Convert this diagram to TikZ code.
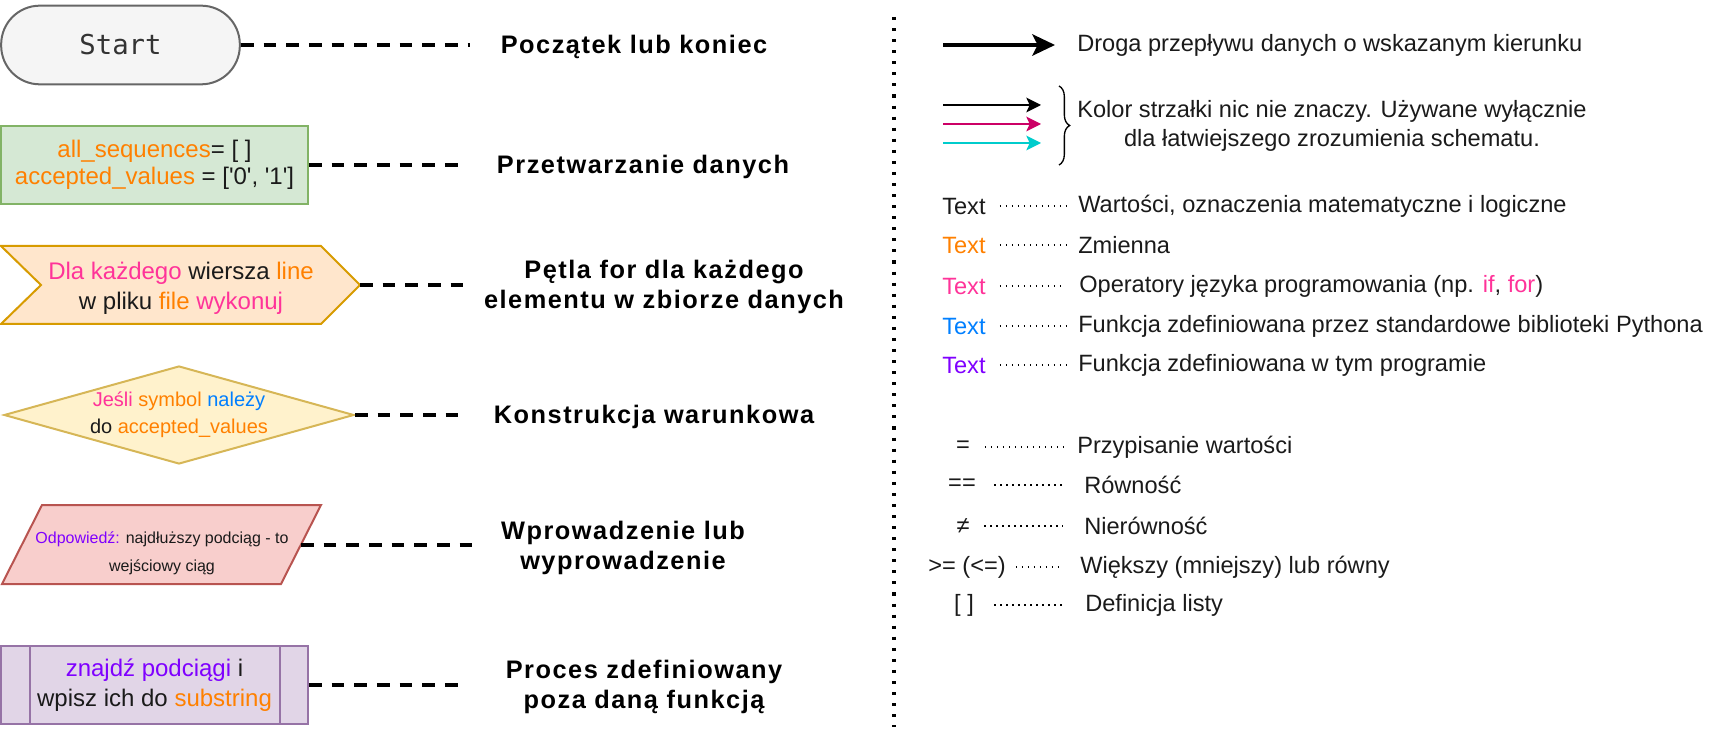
\documentclass[tikz,border=0pt]{standalone}
\usepackage{fontspec}
\setmainfont{Liberation Sans}
\newfontfamily\monofam{DejaVu Sans Mono}
\newfontfamily\labelfam{Liberation Sans}[LetterSpace=6]
\usetikzlibrary{arrows.meta,shapes.geometric,decorations.pathreplacing}

\definecolor{cvarcol}{HTML}{FF8000}
\definecolor{copcol}{HTML}{FF3399}
\definecolor{clibcol}{HTML}{007FFF}
\definecolor{cfuncol}{HTML}{7F00FF}
\definecolor{arrmagenta}{HTML}{CC0066}
\definecolor{arrcyan}{HTML}{00CCCC}
\definecolor{termfill}{HTML}{F5F5F5}
\definecolor{termline}{HTML}{666666}
\definecolor{termtext}{HTML}{333333}
\definecolor{procfill}{HTML}{D5E8D4}
\definecolor{procline}{HTML}{82B366}
\definecolor{loopfill}{HTML}{FFE6CC}
\definecolor{loopline}{HTML}{D79B00}
\definecolor{condfill}{HTML}{FFF2CC}
\definecolor{condline}{HTML}{D6B656}
\definecolor{iofill}{HTML}{F8CECC}
\definecolor{ioline}{HTML}{B85450}
\definecolor{subfill}{HTML}{E1D5E7}
\definecolor{subline}{HTML}{9673A6}
\definecolor{inktext}{HTML}{1A1A1A}

\newcommand{\cvar}[1]{\textcolor{cvarcol}{#1}}
\newcommand{\cop}[1]{\textcolor{copcol}{#1}}
\newcommand{\clib}[1]{\textcolor{clibcol}{#1}}
\newcommand{\cfun}[1]{\textcolor{cfuncol}{#1}}
\newcommand{\q}{\textquotesingle}

\begin{document}
\begin{tikzpicture}[x=0.75pt, y=-0.75pt, >=Stealth,
  shapetext/.style={align=center, text=inktext, font=\fontsize{18pt}{20.5pt}\selectfont},
  terminal/.style={draw=termline, fill=termfill, line width=1.5pt, rounded corners=29pt,
    minimum width=179pt, minimum height=59pt, text=termtext, font=\monofam\fontsize{20.5pt}{24pt}\selectfont},
  procbox/.style={shapetext, draw=procline, fill=procfill, line width=1.5pt, minimum width=230pt, minimum height=58.5pt},
  subbox/.style={shapetext, draw=subline, fill=subfill, line width=1.5pt, minimum width=230pt, minimum height=58.5pt,
    font=\fontsize{18pt}{22.5pt}\selectfont},
  condbox/.style={shapetext, diamond, aspect=3.57, draw=condline, fill=condfill, line width=1.5pt,
    minimum width=262.5pt, minimum height=73.5pt, inner sep=0pt, font=\fontsize{15pt}{20pt}\selectfont},
  bigtext/.style={align=center, inner sep=0pt, font=\labelfam\bfseries\fontsize{19pt}{23pt}\selectfont},
  legtext/.style={inner sep=0pt, text=inktext, font=\fontsize{17.7pt}{21.75pt}\selectfont},
  linkline/.style={line width=2.6pt, dash pattern=on 9.5pt off 7.5pt},
  leader/.style={line width=1.1pt, dash pattern=on 1.1pt off 3.4pt},
  sepline/.style={line width=2.3pt, dash pattern=on 2.3pt off 6pt}]
\useasboundingbox (0,0) rectangle (1726,748);

% left column: flowchart symbols
\node[terminal] (start) at (120.5,45) {Start};
\node[procbox] (init) at (154.5,165) {\cvar{all\_sequences}= [ ]\\\cvar{accepted\_values} = [\q0\q, \q1\q]};

\filldraw[draw=loopline, fill=loopfill, line width=1.5pt]
  (1,246) -- (321,246) -- (360,285) -- (321,324) -- (1,324) -- (41,285) -- cycle;
\coordinate (looptip) at (360,285);
\node[shapetext, font=\fontsize{18pt}{22.5pt}\selectfont] (loop) at (181,288) {\cop{Dla każdego} wiersza \cvar{line}\\w pliku \cvar{file} \cop{wykonuj}};

\node[condbox] (cond) at (179,415) {\cop{Jeśli} \cvar{symbol} \clib{należy}\\do \cvar{accepted\_values}};

\filldraw[draw=ioline, fill=iofill, line width=1.5pt]
  (42,505) -- (321,505) -- (281,584) -- (2,584) -- cycle;
\coordinate (ioedge) at (301,545);
\node[shapetext, font=\fontsize{12pt}{21pt}\selectfont] (answer) at (162,553) {\cfun{Odpowiedź:} najdłuższy podciąg - to\\wejściowy ciąg};

\node[subbox] (sub) at (154.5,685) {\cfun{znajdź podciągi} i\\wpisz ich do \cvar{substring}};
\draw[draw=subline, line width=1.5pt] ([xshift=22.5pt]sub.north west) -- ([xshift=22.5pt]sub.south west);
\draw[draw=subline, line width=1.5pt] ([xshift=-22pt]sub.north east) -- ([xshift=-22pt]sub.south east);

% names of the symbols
\node[bigtext] (lstart) at (634,47) {Początek lub koniec};
\node[bigtext] (linit) at (643,167) {Przetwarzanie danych};
\node[bigtext] (lloop) at (664,287) {Pętla for dla każdego\\elementu w zbiorze danych};
\node[bigtext] (lcond) at (654,417) {Konstrukcja warunkowa};
\node[bigtext] (lio) at (623,548) {Wprowadzenie lub\\wyprowadzenie};
\node[bigtext] (lsub) at (644,687) {Proces zdefiniowany\\poza daną funkcją};

\draw[linkline, shorten >=23pt] (start.east) -- (start.east -| lstart.west);
\draw[linkline, shorten >=25pt] (init.east) -- (init.east -| linit.west);
\draw[linkline, shorten >=10pt] (looptip) -- (looptip -| lloop.west);
\draw[linkline, shorten >=23pt] (cond.east) -- (cond.east -| lcond.west);
\draw[linkline, shorten >=20pt] (ioedge) -- (ioedge -| lio.west);
\draw[linkline, shorten >=30pt] (sub.east) -- (sub.east -| lsub.west);

% separator
\draw[sepline] (894,17) -- (894,727);

% right column: legend
\coordinate (flowfrom) at (943,45);
\node[legtext, anchor=west] (flowtxt) at (1077,45) {Droga przepływu danych o wskazanym kierunku};
\draw[line width=2.8pt, -{Stealth[length=17pt, width=16pt, inset=4pt]}, shorten >=16.5pt] (flowfrom) -- (flowfrom -| flowtxt.west);

\coordinate (blackfrom) at (943,105);
\coordinate (blackto) at (1041,105);
\coordinate (magfrom) at (943,124);
\coordinate (magto) at (1041,124);
\coordinate (cyanfrom) at (943,143);
\coordinate (cyanto) at (1041,143);
\draw[line width=1.5pt, -{Stealth[length=11pt, width=11pt, inset=2.5pt]}] (blackfrom) -- (blackto);
\draw[arrmagenta, line width=1.5pt, -{Stealth[length=11pt, width=11pt, inset=2.5pt]}] (magfrom) -- (magto);
\draw[arrcyan, line width=1.5pt, -{Stealth[length=11pt, width=11pt, inset=2.5pt]}] (cyanfrom) -- (cyanto);
\draw[line width=1pt, decorate, decoration={brace, amplitude=8pt}] (1059,86) -- (1059,165);
\node[legtext, align=center] (colortxt) at (1332,126) {Kolor strzałki nic nie znaczy. Używane wyłącznie\\dla łatwiejszego zrozumienia schematu.};

\node[legtext, anchor=west] (tx1) at (942,206) {Text};
\node[legtext, anchor=west] (dx1) at (1078,206) {Wartości, oznaczenia matematyczne i logiczne};
\node[legtext, anchor=west, text=cvarcol] (tx2) at (942,245) {Text};
\node[legtext, anchor=west] (dx2) at (1078,245) {Zmienna};
\node[legtext, anchor=west, text=copcol] (tx3) at (942,286) {Text};
\node[legtext, anchor=west] (dx3) at (1079,286) {Operatory języka programowania (np. \cop{if}, \cop{for})};
\node[legtext, anchor=west, text=clibcol] (tx4) at (942,326) {Text};
\node[legtext, anchor=west] (dx4) at (1078,326) {Funkcja zdefiniowana przez standardowe biblioteki Pythona};
\node[legtext, anchor=west, text=cfuncol] (tx5) at (942,365) {Text};
\node[legtext, anchor=west] (dx5) at (1078,365) {Funkcja zdefiniowana w tym programie};
\draw[leader, shorten <=10.5pt, shorten >=9pt] (tx1) -- (dx1);
\draw[leader, shorten <=10.5pt, shorten >=9pt] (tx2) -- (dx2);
\draw[leader, shorten <=10.5pt, shorten >=12pt] (tx3) -- (dx3);
\draw[leader, shorten <=10.5pt, shorten >=9pt] (tx4) -- (dx4);
\draw[leader, shorten <=10.5pt, shorten >=9pt] (tx5) -- (dx5);

\node[legtext] (op1) at (963,447) {=};
\node[legtext, anchor=west] (op1txt) at (1077,447) {Przypisanie wartości};
\node[legtext] (op2) at (962,485) {==};
\node[legtext, anchor=west] (op2txt) at (1084,485) {Równość};
\node[legtext] (op3) at (963,526) {≠};
\node[legtext, anchor=west] (op3txt) at (1084,526) {Nierówność};
\node[legtext] (op4) at (967,567) {>= (<=)};
\node[legtext, anchor=west] (op4txt) at (1080,567) {Większy (mniejszy) lub równy};
\node[legtext] (op5) at (964,605) {[ ]};
\node[legtext, anchor=west] (op5txt) at (1085,605) {Definicja listy};
\draw[leader, shorten <=11pt, shorten >=10.5pt] (op1) -- (op1txt);
\draw[leader, shorten <=13.5pt, shorten >=16.5pt] (op2) -- (op2txt);
\draw[leader, shorten <=11pt, shorten >=15.5pt] (op3) -- (op3txt);
\draw[leader, shorten <=7.5pt, shorten >=12.5pt] (op4) -- (op4txt);
\draw[leader, shorten <=15pt, shorten >=17pt] (op5) -- (op5txt);
\end{tikzpicture}
\end{document}
